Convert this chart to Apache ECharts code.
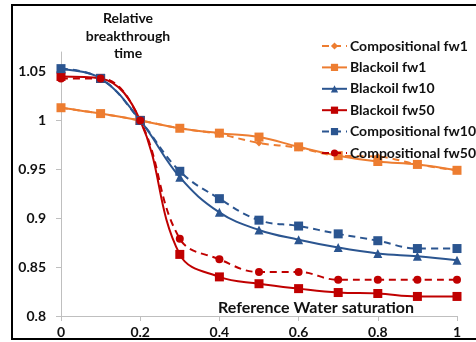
<!DOCTYPE html>
<html>
<head>
<meta charset="utf-8">
<script src="https://cdn.jsdelivr.net/npm/echarts@6/dist/echarts.min.js"></script>
<style>
  html, body { margin: 0; padding: 0; background: #fff; }
  #chart { width: 476px; height: 342px; }
</style>
</head>
<body>
<div id="chart"></div>
<script>
// Reference water saturation (x) and relative breakthrough time per case
const saturation = [0, 0.1, 0.2, 0.3, 0.4, 0.5, 0.6, 0.7, 0.8, 0.9, 1];
const compositionalFw1 = [1.013, 1.007, 1.0, 0.992, 0.986, 0.977, 0.972, 0.964, 0.963, 0.955, 0.949];
const blackoilFw1      = [1.013, 1.007, 1.0, 0.992, 0.987, 0.983, 0.973, 0.964, 0.958, 0.955, 0.949];
const blackoilFw10     = [1.052, 1.043, 1.0, 0.942, 0.906, 0.888, 0.878, 0.870, 0.864, 0.861, 0.857];
const blackoilFw50     = [1.045, 1.043, 1.0, 0.863, 0.840, 0.833, 0.828, 0.824, 0.823, 0.820, 0.820];
const compositionalFw10 = [1.053, 1.043, 1.0, 0.948, 0.920, 0.898, 0.892, 0.884, 0.877, 0.869, 0.869];
const compositionalFw50 = [1.043, 1.043, 1.0, 0.879, 0.858, 0.845, 0.845, 0.837, 0.837, 0.837, 0.837];
const xTicks = [0, 0.2, 0.4, 0.6, 0.8, 1];
const yTicks = [0.8, 0.85, 0.9, 0.95, 1, 1.05];

const ORANGE = '#ED7D31';
const BLUE = '#2B5590';
const RED = '#C00000';
const FONT = 'Lato, "Liberation Sans", sans-serif';

function pairs(ys) { return saturation.map((x, i) => [x, ys[i]]); }

function makeSeries(name, ys, color, symbol, size, dashed) {
  return {
    name: name,
    type: 'line',
    data: pairs(ys),
    smooth: 0.4,
    symbol: symbol,
    symbolSize: size,
    itemStyle: { color: color },
    lineStyle: { color: color, width: 2, type: dashed ? [7, 5] : 'solid' },
    emphasis: { disabled: true },
    z: dashed ? 3 : 2
  };
}

const chart = echarts.init(document.getElementById('chart'), null, { renderer: 'canvas' });
chart.setOption({
  animation: false,
  backgroundColor: '#fff',
  grid: { left: 61, right: 19, top: 52, bottom: 26, containLabel: false },
  legend: {
    orient: 'vertical',
    left: 316,
    top: 34,
    itemWidth: 25,
    itemHeight: 9,
    itemGap: 7.4,
    textStyle: { fontFamily: FONT, fontWeight: 'bold', fontSize: 14, color: '#111', padding: [0, 0, 0, -2] },
    data: ['Compositional fw1', 'Blackoil fw1', 'Blackoil fw10', 'Blackoil fw50', 'Compositional fw10', 'Compositional fw50']
  },
  xAxis: {
    type: 'value',
    min: 0,
    max: 1,
    interval: 0.2,
    splitLine: { show: false },
    axisLine: { lineStyle: { color: '#BFBFBF', width: 1 } },
    axisTick: { show: true, length: 5, lineStyle: { color: '#BFBFBF' } },
    axisLabel: {
      margin: 9,
      fontFamily: FONT, fontWeight: 'bold', fontSize: 14, color: '#111',
      formatter: v => (xTicks.some(t => Math.abs(t - v) < 1e-9) ? String(+v.toFixed(1)) : '')
    }
  },
  yAxis: {
    type: 'value',
    min: 0.8,
    max: 1.07,
    interval: 0.05,
    splitLine: { show: false },
    axisLine: { show: true, lineStyle: { color: '#BFBFBF', width: 1 } },
    axisTick: { show: true, length: 5, lineStyle: { color: '#BFBFBF' } },
    axisLabel: {
      margin: 15,
      showMaxLabel: false,
      fontFamily: FONT, fontWeight: 'bold', fontSize: 14, color: '#111',
      formatter: v => (yTicks.some(t => Math.abs(t - v) < 1e-9) ? String(+v.toFixed(2)) : '')
    }
  },
  graphic: [
    {
      type: 'polyline',
      shape: { points: [[490, 5], [12, 5], [12, 339], [490, 339]] },
      style: { stroke: '#000', lineWidth: 2, fill: null },
      silent: true
    },
    {
      type: 'text',
      x: 128, y: 10,
      style: {
        text: 'Relative\nbreakthrough\ntime',
        align: 'center', verticalAlign: 'top',
        font: 'bold 14px ' + FONT,
        lineHeight: 17.5,
        fill: '#111'
      },
      silent: true
    },
    {
      type: 'text',
      x: 316, y: 308,
      style: {
        text: 'Reference Water saturation',
        align: 'center', verticalAlign: 'middle',
        font: 'bold 16px ' + FONT,
        fill: '#111'
      },
      silent: true
    }
  ],
  series: [
    makeSeries('Compositional fw1', compositionalFw1, ORANGE, 'diamond', 7, true),
    makeSeries('Blackoil fw1', blackoilFw1, ORANGE, 'rect', 9, false),
    makeSeries('Blackoil fw10', blackoilFw10, BLUE, 'triangle', 9, false),
    makeSeries('Blackoil fw50', blackoilFw50, RED, 'rect', 9, false),
    makeSeries('Compositional fw10', compositionalFw10, BLUE, 'rect', 9, true),
    makeSeries('Compositional fw50', compositionalFw50, RED, 'circle', 8, true)
  ]
});
</script>
</body>
</html>
